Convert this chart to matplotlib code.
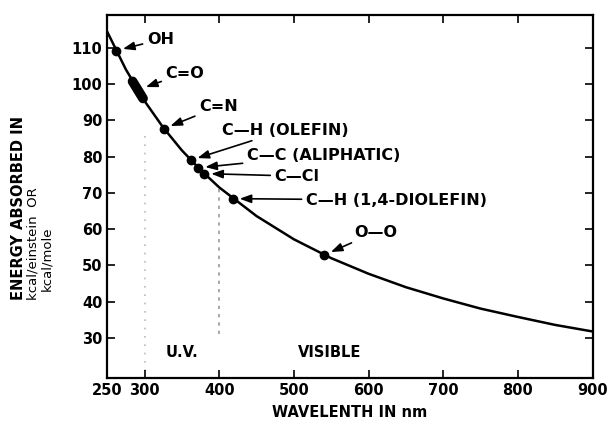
"""
Energy absorbed vs wavelength, with bond dissociation energies marked on the curve.
"""

import matplotlib
matplotlib.use("Agg")
import matplotlib.pyplot as plt

# ── DATA ──────────────────────────────────────────────────────────────────────
# curve (nm, kcal/mole)
curve_nm = [250, 275, 300, 325, 350, 375, 400, 450, 500, 550, 600, 650, 700, 750, 800, 850, 900]
curve_kcal = [114.4, 104.0, 95.3, 88.0, 81.7, 76.3, 71.5, 63.6, 57.2, 52.0, 47.7, 44.0, 40.9, 38.1, 35.8, 33.6, 31.8]

# bonds marked on the curve
bond_labels = ["OH", "C=N", "C—H (OLEFIN)", "C—C (ALIPHATIC)", "C—Cl",
               "C—H (1,4-DIOLEFIN)", "O—O"]
bond_nm = [262, 326, 362, 372, 380, 418, 541]
bond_kcal = [109.2, 87.7, 79.0, 76.9, 75.3, 68.4, 52.9]

# C=O is drawn as a short thick band
co_nm = [284, 298]
co_kcal = [100.7, 96.0]

# text positions (nm, kcal/mole)
label_nm = [303, 373, 404, 437, 474, 516, 581]
label_kcal = [112.2, 93.7, 87.3, 80.4, 74.6, 68.0, 59.2]
co_label = (328, 103.0)

x_ticks = [250, 300, 400, 500, 600, 700, 800, 900]
y_ticks = [30, 40, 50, 60, 70, 80, 90, 100, 110]

# ── PLOT ──────────────────────────────────────────────────────────────────────
plt.rcParams["font.family"] = ["DejaVu Sans"]

fig = plt.figure(figsize=(6.09, 4.28), dpi=100)
ax = fig.add_axes([0.176, 0.117, 0.797, 0.848])

ax.plot(curve_nm, curve_kcal, color="black", linewidth=1.8, zorder=3)
ax.plot(co_nm, co_kcal, color="black", linewidth=7, solid_capstyle="round", zorder=4)
ax.plot(bond_nm, bond_kcal, "o", color="black", markersize=6, zorder=5)

# region separators
ax.plot([300, 300], [21, 87], color="#bbbbbb", linestyle=(0, (1, 4)), linewidth=1.2, zorder=1)
ax.plot([400, 400], [31, 72], color="#999999", linestyle=(0, (2, 3)), linewidth=1.2, zorder=1)

arrow = dict(arrowstyle="-|>,head_length=0.6,head_width=0.22", color="black",
             linewidth=1.2, shrinkA=1, shrinkB=5)

for lab, bx, by, tx, ty in zip(bond_labels, bond_nm, bond_kcal, label_nm, label_kcal):
    ax.annotate(lab, xy=(bx, by), xytext=(tx, ty), ha="left", va="center",
                fontsize=11.5, fontweight="bold", arrowprops=arrow, zorder=6)

ax.annotate("C=O", xy=(293, 98.5), xytext=co_label, ha="left", va="center",
            fontsize=11.5, fontweight="bold", arrowprops=arrow, zorder=6)

ax.text(328, 26, "U.V.", fontsize=10.5, fontweight="bold", ha="left", va="center")
ax.text(505, 26, "VISIBLE", fontsize=10.5, fontweight="bold", ha="left", va="center")

ax.set_xlim(250, 900)
ax.set_ylim(19, 119)
ax.set_xticks(x_ticks)
ax.set_yticks(y_ticks)
ax.tick_params(direction="in", length=6, width=1.2, top=True, right=True,
               labelsize=10.5)
for lbl in ax.get_xticklabels() + ax.get_yticklabels():
    lbl.set_fontweight("bold")
for sp in ax.spines.values():
    sp.set_linewidth(1.6)

ax.set_xlabel("WAVELENTH IN nm", fontsize=10.5, fontweight="bold", labelpad=5)

fig.text(0.030, 0.30, "ENERGY ABSORBED IN", rotation=90, fontsize=10.5,
         fontweight="bold", ha="center", va="bottom")
fig.text(0.055, 0.30, "kcal/einstein  OR", rotation=90, fontsize=9.5,
         ha="center", va="bottom")
fig.text(0.076, 0.32, "kcal/mole", rotation=90, fontsize=9.5,
         ha="center", va="bottom")

plt.savefig("out.png", dpi=100)
plt.close()
